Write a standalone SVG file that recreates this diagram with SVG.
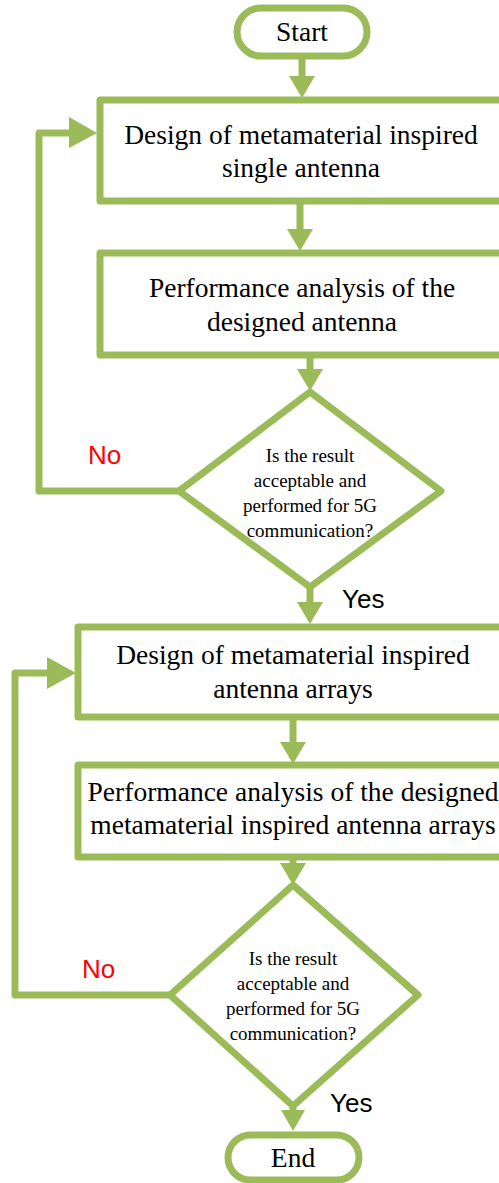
<svg xmlns="http://www.w3.org/2000/svg" width="499" height="1183" viewBox="0 0 499 1183">
<style>
.s{fill:#fff;stroke:#9BBB59;stroke-width:7;stroke-linejoin:round}
.c{fill:none;stroke:#9BBB59;stroke-width:7;stroke-linejoin:round}
.h{fill:#9BBB59}
.t{font-family:"Liberation Serif","Times New Roman",serif;font-size:27.5px;fill:#000;text-anchor:middle}
.q{font-family:"Liberation Serif","Times New Roman",serif;font-size:19px;fill:#000;text-anchor:middle}
.y{font-family:"Liberation Sans",Arial,sans-serif;font-size:26px;fill:#000}
.n{font-family:"Liberation Sans",Arial,sans-serif;font-size:26px;fill:#FF0000}
</style>
<g id="connectors">
<line class="c" x1="302" y1="57" x2="302" y2="80"/><polygon class="h" points="289,76 315,76 302,98"/>
<line class="c" x1="300" y1="201" x2="300" y2="232"/><polygon class="h" points="287,229 313,229 300,251"/>
<line class="c" x1="310" y1="355" x2="310" y2="372"/><polygon class="h" points="297,369 323,369 310,391"/>
<polyline class="c" points="178,491 39,491 39,133 74,133"/><polygon class="h" points="69,117 69,148 97,133"/>
<line class="c" x1="310" y1="588" x2="310" y2="604"/><polygon class="h" points="297,602 323,602 310,624"/>
<line class="c" x1="293" y1="717" x2="293" y2="745"/><polygon class="h" points="280,742 306,742 293,764"/>
<line class="c" x1="293" y1="857" x2="293" y2="866"/><polygon class="h" points="280,863 306,863 293,885"/>
<polyline class="c" points="170,995 15,995 15,673 52,673"/><polygon class="h" points="47,657 47,689 76,673"/>
<line class="c" x1="293" y1="1105" x2="293" y2="1114"/><polygon class="h" points="281,1110 305,1110 293,1131"/>
</g>
<g id="start"><rect class="s" x="237" y="8" width="130" height="48" rx="24"/><text class="t" x="302" y="41">Start</text></g>
<g id="box1"><rect class="s" x="100" y="100" width="430" height="101"/><text class="t" x="301" y="144">Design of metamaterial inspired</text><text class="t" x="301" y="177">single antenna</text></g>
<g id="box2"><rect class="s" x="100" y="253" width="430" height="102"/><text class="t" x="302" y="297">Performance analysis of the</text><text class="t" x="302" y="331">designed antenna</text></g>
<g id="dec1"><polygon class="s" points="310,392 441,491 310,587 179,491"/><text class="q" x="310" y="462">Is the result</text><text class="q" x="310" y="487">acceptable and</text><text class="q" x="310" y="512">performed for 5G</text><text class="q" x="310" y="537">communication?</text></g>
<g id="box3"><rect class="s" x="78" y="627" width="450" height="90"/><text class="t" x="293" y="664">Design of metamaterial inspired</text><text class="t" x="293" y="698">antenna arrays</text></g>
<g id="box4"><rect class="s" x="78" y="765" width="450" height="92"/><text class="t" x="293" y="801">Performance analysis of the designed</text><text class="t" x="293" y="834">metamaterial inspired antenna arrays</text></g>
<g id="dec2"><polygon class="s" points="293,885 418,995 293,1106 170,995"/><text class="q" x="293" y="965">Is the result</text><text class="q" x="293" y="990">acceptable and</text><text class="q" x="293" y="1015">performed for 5G</text><text class="q" x="293" y="1040">communication?</text></g>
<g id="end"><rect class="s" x="228" y="1135" width="131" height="45" rx="22.5"/><text class="t" x="293" y="1167">End</text></g>
<g id="labels">
<text class="y" x="342" y="608">Yes</text>
<text class="n" x="88" y="464">No</text>
<text class="y" x="330" y="1112">Yes</text>
<text class="n" x="82" y="978">No</text>
</g>
</svg>
